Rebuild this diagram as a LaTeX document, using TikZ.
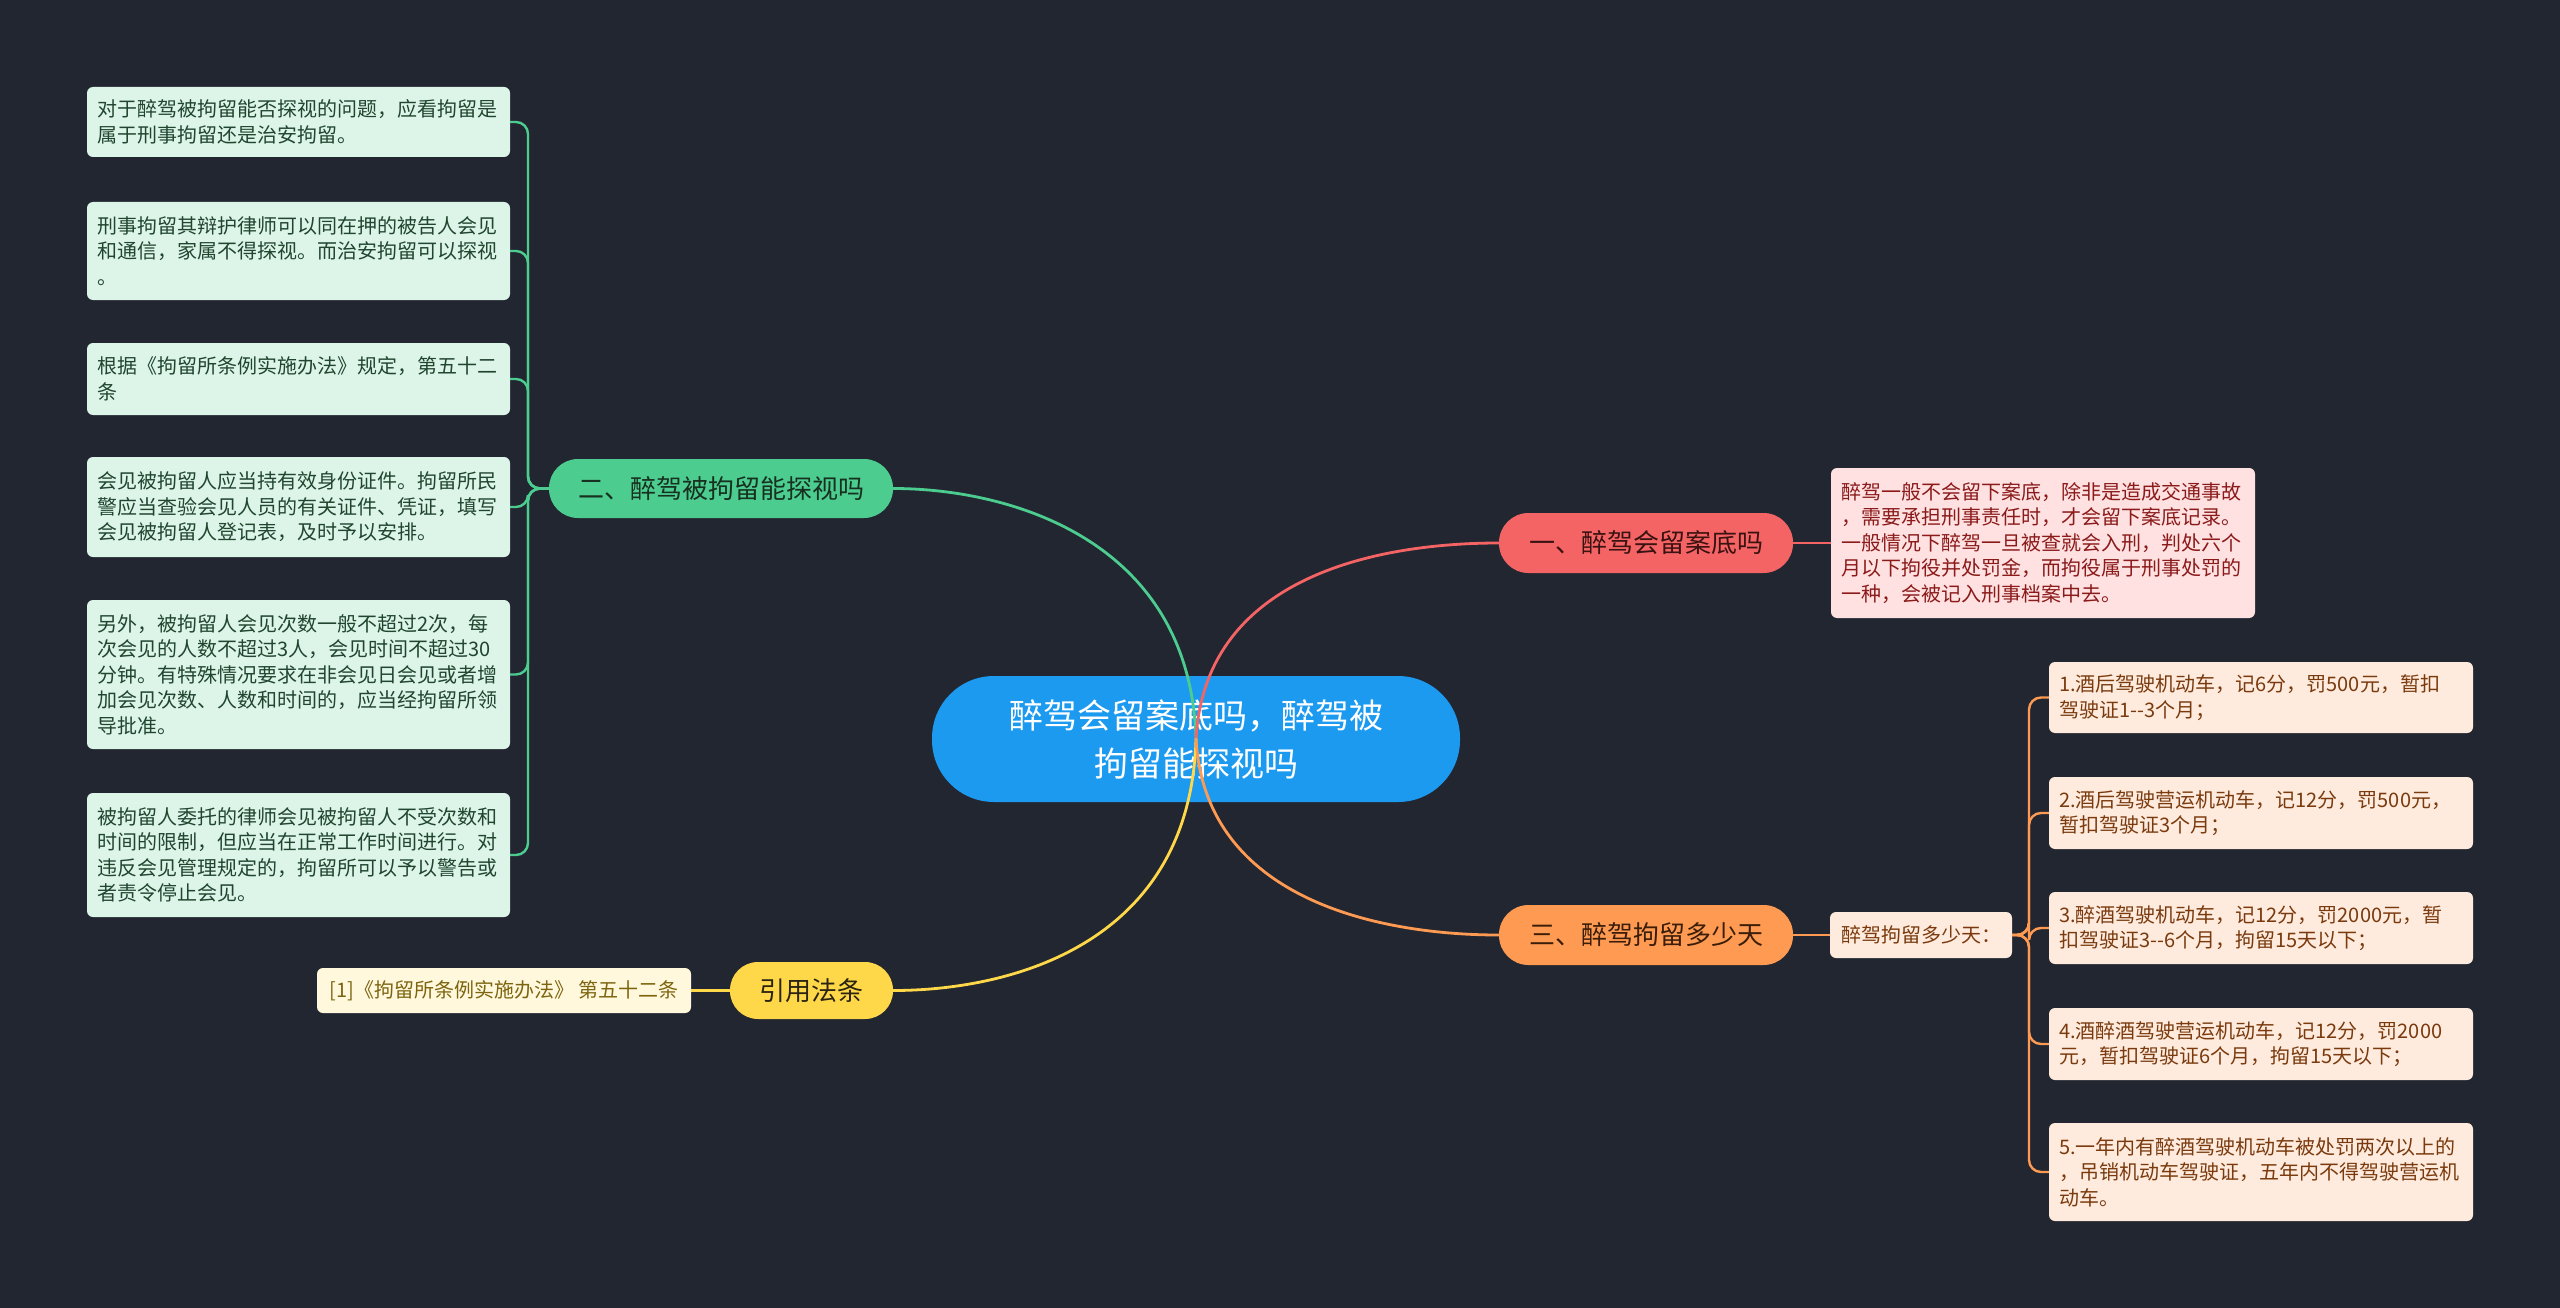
\documentclass[tikz,border=0pt]{standalone}
\usepackage{fontspec}
\setmainfont{Noto Sans CJK SC}
\definecolor{bgc}{HTML}{222631}
\definecolor{cblue}{HTML}{1C9AF0}
\definecolor{ggreen}{HTML}{4CCD8F}
\definecolor{gleaf}{HTML}{DCF5E8}
\definecolor{gtext}{HTML}{21452F}
\definecolor{gnode}{HTML}{17301F}
\definecolor{rred}{HTML}{F46464}
\definecolor{rleaf}{HTML}{FFE1E1}
\definecolor{rtext}{HTML}{8B1A1A}
\definecolor{rnode}{HTML}{3B1212}
\definecolor{oorange}{HTML}{FF9A52}
\definecolor{oleaf}{HTML}{FEEBDD}
\definecolor{otext}{HTML}{7A3A0E}
\definecolor{onode}{HTML}{3A1E0A}
\definecolor{yyellow}{HTML}{FFD84A}
\definecolor{yleaf}{HTML}{FFF8DC}
\definecolor{ytext}{HTML}{7D6510}
\definecolor{ynode}{HTML}{2B2410}
\begin{document}
\begin{tikzpicture}[x=1pt,y=-1pt,
  leafbase/.style={rectangle, rounded corners=6pt, inner xsep=10pt, inner ysep=6pt,
    text width=403pt, align=left, font=\fontsize{20}{25.5}\selectfont, anchor=center},
  leafG/.style={leafbase, fill=gleaf, text=gtext},
  leafR/.style={leafbase, fill=rleaf, text=rtext},
  leafO/.style={leafbase, fill=oleaf, text=otext},
  pill/.style={rectangle, inner sep=0pt, align=center, font=\fontsize{26}{30}\selectfont},
  mainline/.style={line width=2.8pt, line cap=round},
  subline/.style={line width=2.4pt, rounded corners=12pt},
]
\fill[bgc] (0,0) rectangle (2560,1308);
\useasboundingbox (0,0) rectangle (2560,1308);

% center
\node[pill, fill=cblue, text=white, minimum width=528pt, minimum height=126pt,
  rounded corners=62pt, font=\fontsize{34}{48}\selectfont] (c) at (1196,739)
  {醉驾会留案底吗，醉驾被\\拘留能探视吗};

% main branches
\node[pill, fill=ggreen, text=gnode, minimum width=344pt, minimum height=59pt,
  rounded corners=29pt] (g) at (721,488.5) {二、醉驾被拘留能探视吗};
\node[pill, fill=rred, text=rnode, minimum width=294pt, minimum height=60pt,
  rounded corners=29.5pt] (r) at (1646,543) {一、醉驾会留案底吗};
\node[pill, fill=oorange, text=onode, minimum width=294pt, minimum height=60pt,
  rounded corners=29.5pt] (o3) at (1646,935) {三、醉驾拘留多少天};
\node[pill, fill=yyellow, text=ynode, minimum width=163pt, minimum height=57pt,
  rounded corners=28pt] (y) at (811.5,990.5) {引用法条};

% green leaves
\node[leafG, minimum height=70pt] (g1) at (298.5,122)
  {对于醉驾被拘留能否探视的问题，应看拘留是\\属于刑事拘留还是治安拘留。};
\node[leafG, minimum height=98pt] (g2) at (298.5,251)
  {刑事拘留其辩护律师可以同在押的被告人会见\\和通信，家属不得探视。而治安拘留可以探视\\。};
\node[leafG, minimum height=72pt] (g3) at (298.5,379)
  {根据《拘留所条例实施办法》规定，第五十二\\条};
\node[leafG, minimum height=100pt] (g4) at (298.5,507)
  {会见被拘留人应当持有效身份证件。拘留所民\\警应当查验会见人员的有关证件、凭证，填写\\会见被拘留人登记表，及时予以安排。};
\node[leafG, minimum height=149pt] (g5) at (298.5,674.5)
  {另外，被拘留人会见次数一般不超过2次，每\\次会见的人数不超过3人，会见时间不超过30\\分钟。有特殊情况要求在非会见日会见或者增\\加会见次数、人数和时间的，应当经拘留所领\\导批准。};
\node[leafG, minimum height=124pt] (g6) at (298.5,855)
  {被拘留人委托的律师会见被拘留人不受次数和\\时间的限制，但应当在正常工作时间进行。对\\违反会见管理规定的，拘留所可以予以警告或\\者责令停止会见。};

% red leaf
\node[leafR, text width=404pt, minimum height=150pt] (r1) at (2043,543)
  {醉驾一般不会留下案底，除非是造成交通事故\\，需要承担刑事责任时，才会留下案底记录。\\一般情况下醉驾一旦被查就会入刑，判处六个\\月以下拘役并处罚金，而拘役属于刑事处罚的\\一种，会被记入刑事档案中去。};

% orange middle and leaves
\node[rectangle, rounded corners=6pt, fill=oleaf, text=otext, minimum width=182pt,
  minimum height=46pt, inner sep=0pt, font=\fontsize{20}{25.5}\selectfont] (m) at (1921,935)
  {醉驾拘留多少天：};
\node[leafO, text width=404pt, minimum height=71pt] (o1) at (2261,697.5)
  {1.酒后驾驶机动车，记6分，罚500元，暂扣\\驾驶证1-{}-3个月；};
\node[leafO, text width=404pt, minimum height=72pt] (o2) at (2261,813)
  {2.酒后驾驶营运机动车，记12分，罚500元，\\暂扣驾驶证3个月；};
\node[leafO, text width=404pt, minimum height=72pt] (o4a) at (2261,928)
  {3.醉酒驾驶机动车，记12分，罚2000元，暂\\扣驾驶证3-{}-6个月，拘留15天以下；};
\node[leafO, text width=404pt, minimum height=72pt] (o4) at (2261,1044)
  {4.酒醉酒驾驶营运机动车，记12分，罚2000\\元，暂扣驾驶证6个月，拘留15天以下；};
\node[leafO, text width=404pt, minimum height=98pt] (o5) at (2261,1172)
  {5.一年内有醉酒驾驶机动车被处罚两次以上的\\，吊销机动车驾驶证，五年内不得驾驶营运机\\动车。};

% yellow leaf
\node[rectangle, rounded corners=6pt, fill=yleaf, text=ytext, minimum width=374pt,
  minimum height=45pt, inner sep=0pt, font=\fontsize{20}{25.5}\selectfont] (ref) at (504,990.5)
  {[1]《拘留所条例实施办法》 第五十二条};

% main connectors from center
\coordinate (o) at (1196,739);
\draw[mainline, draw=ggreen] (o) .. controls (1190,540) and (1010,488.5) .. (g.east);
\draw[mainline, draw=rred] (o) .. controls (1205,575) and (1380,543) .. (r.west);
\draw[mainline, draw=yyellow] (o) .. controls (1190,945) and (1010,990.5) .. (y.east);
\draw[mainline, draw=oorange] (o) .. controls (1205,900) and (1380,935) .. (o3.west);

% green bracket
\coordinate (gs) at (528,488.5);
\foreach \n in {g1,g2,g3,g4,g5,g6}
  \draw[subline, draw=ggreen] (g.west) -- (gs) |- (\n.east);

% red
\draw[line width=2.4pt, draw=rred] (r.east) -- (r1.west);
% orange
\draw[line width=2.4pt, draw=oorange] (o3.east) -- (m.west);
\coordinate (os) at (2029,935);
\foreach \n in {o1,o2,o4a,o4,o5}
  \draw[subline, draw=oorange] (m.east) -- (os) |- (\n.west);
% yellow
\draw[line width=2.4pt, draw=yyellow] (y.west) -- (ref.east);
\end{tikzpicture}
\end{document}
